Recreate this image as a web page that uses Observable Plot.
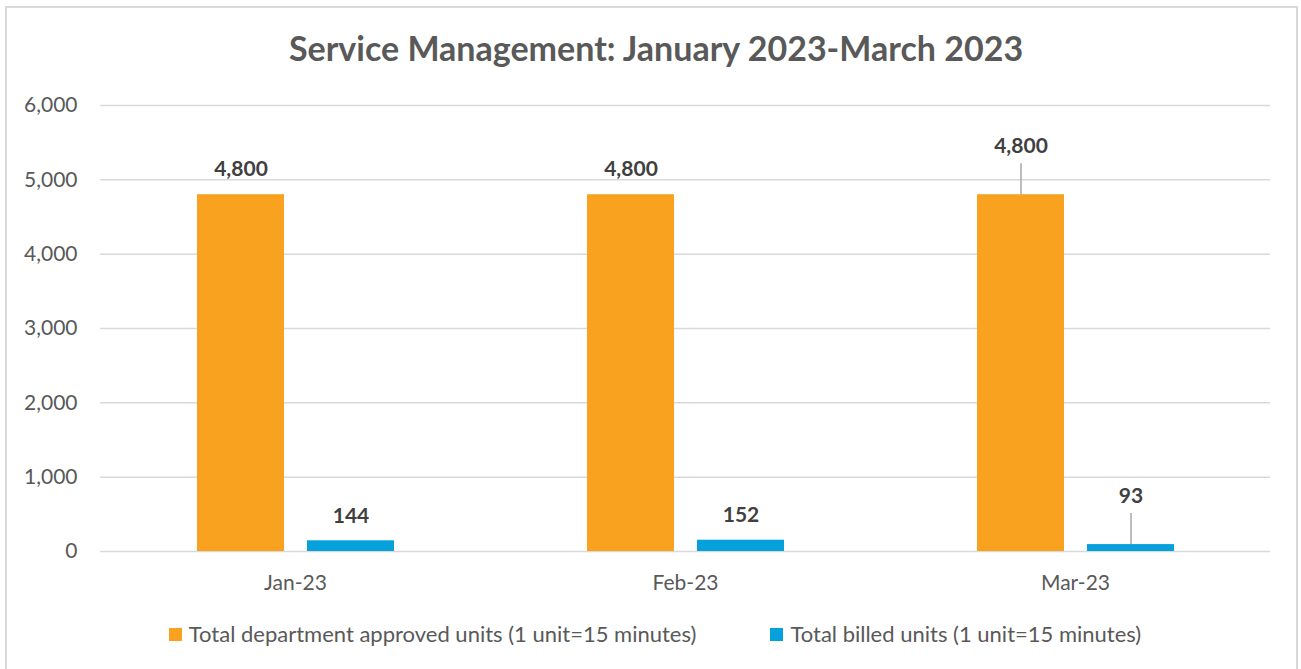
<!DOCTYPE html>
<html>
<head>
<meta charset="utf-8">
<script src="https://cdn.jsdelivr.net/npm/d3@7"></script>
<script src="https://cdn.jsdelivr.net/npm/@observablehq/plot@0.6"></script>
<style>
  html, body { margin: 0; padding: 0; background: #fff; }
  body { width: 1301px; height: 669px; position: relative; overflow: hidden; font-family: Lato, "Open Sans", sans-serif; }
  #frame { position: absolute; left: 5px; top: 6px; width: 1293px; height: 670px; border: 2px solid #d9d9d9; box-sizing: border-box; }
  #title { position: absolute; left: 0; top: 27px; width: 1312px; text-align: center; font-size: 34px; font-weight: 700; color: #595959; line-height: 42px; }
  #chart { position: absolute; left: 0; top: 80px; }
  #legend { position: absolute; left: 0; top: 620px; width: 1310px; display: flex; justify-content: center; align-items: center; font-size: 22px; color: #595959; line-height: 28px; }
  .item { display: flex; align-items: center; }
  .sw { width: 13px; height: 13px; margin-right: 7px; }
</style>
</head>
<body>
<div id="frame"></div>
<div id="title">Service Management: January 2023-March 2023</div>
<div id="chart"></div>
<div id="legend"></div>
<script>
const months = ["Jan-23", "Feb-23", "Mar-23"];
const seriesNames = ["Total department approved units (1 unit=15 minutes)", "Total billed units (1 unit=15 minutes)"];
const approved = [4800, 4800, 4800];
const billed = [144, 152, 93];
const yTicks = [0, 1000, 2000, 3000, 4000, 5000, 6000];
const colors = ["#F8A21F", "#06A0DA"];
const leaderMonths = ["Mar-23"];

const data = [];
months.forEach((m, i) => {
  data.push({month: m, series: seriesNames[0], value: approved[i]});
  data.push({month: m, series: seriesNames[1], value: billed[i]});
});
const fmt = d3.format(",");
const plain = data.filter(d => !leaderMonths.includes(d.month));
const leader = data.filter(d => leaderMonths.includes(d.month));

const chart = Plot.plot({
  width: 1301,
  height: 521,
  marginTop: 25,
  marginBottom: 50,
  marginLeft: 100,
  marginRight: 31,
  style: {fontFamily: "Lato, 'Open Sans', sans-serif", fontSize: "21px", color: "#595959", background: "transparent"},
  fx: {domain: months, padding: 0, label: null, tickSize: 0, tickPadding: 24},
  x: {domain: seriesNames, axis: null, paddingInner: 0.21, paddingOuter: 0.87},
  y: {domain: [0, 6000], ticks: yTicks, tickFormat: d => fmt(d), tickSize: 0, tickPadding: 23, label: null},
  color: {domain: seriesNames, range: colors},
  marks: [
    Plot.ruleY(yTicks, {stroke: "#d9d9d9", strokeWidth: 1.5}),
    Plot.barY(data, {fx: "month", x: "series", y: "value", fill: "series"}),
    Plot.text(plain, {fx: "month", x: "series", y: "value", text: d => fmt(d.value), dy: -25, fontSize: 21, fontWeight: "bold", fill: "#404040"}),
    Plot.ruleX(leader, {fx: "month", x: "series", y1: "value", y2: "value", insetTop: -31, stroke: "#a6a6a6", strokeWidth: 1.5}),
    Plot.text(leader, {fx: "month", x: "series", y: "value", text: d => fmt(d.value), dy: -48, fontSize: 21, fontWeight: "bold", fill: "#404040"})
  ]
});
document.getElementById("chart").appendChild(chart);

const legend = document.getElementById("legend");
seriesNames.forEach((s, i) => {
  const item = document.createElement("div");
  item.className = "item";
  if (i > 0) item.style.marginLeft = "74px";
  const sw = document.createElement("div");
  sw.className = "sw";
  sw.style.background = colors[i];
  const t = document.createElement("span");
  t.textContent = s;
  item.appendChild(sw);
  item.appendChild(t);
  legend.appendChild(item);
});
</script>
</body>
</html>
